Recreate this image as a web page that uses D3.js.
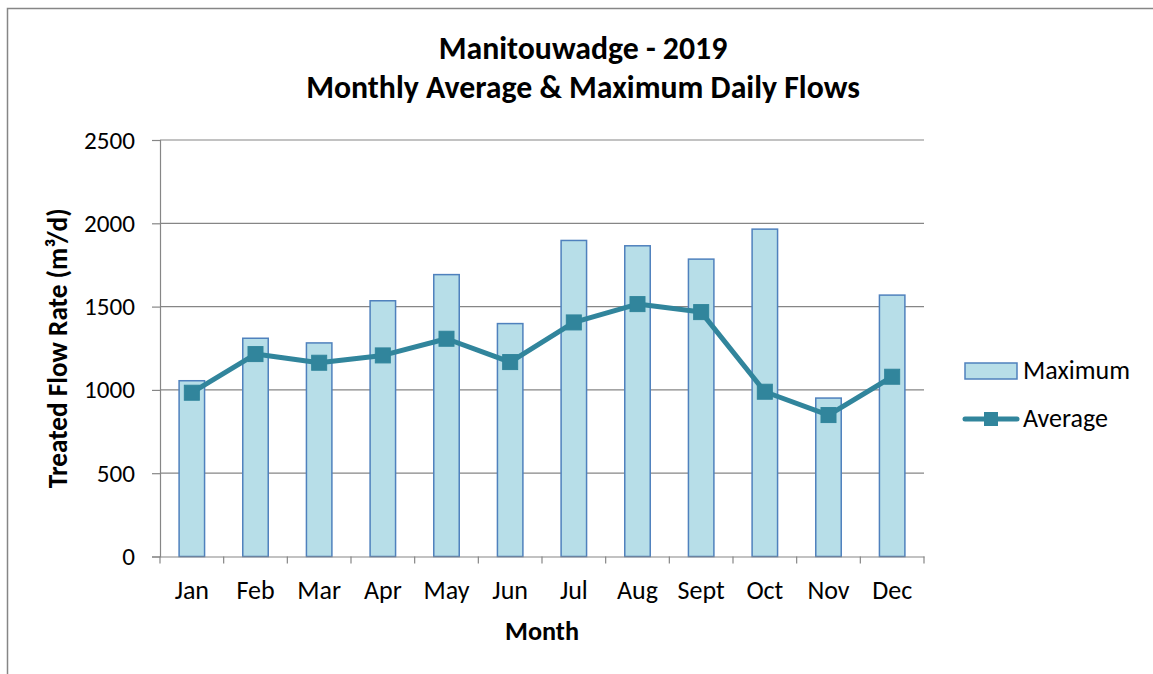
<!DOCTYPE html>
<html><head><meta charset="utf-8">
<script src="https://cdn.jsdelivr.net/npm/d3@7"></script>
<style>
html,body{margin:0;padding:0;background:#fff;}
text{font-family:"Carlito","Calibri","Lato","Open Sans",sans-serif;fill:#000;}
</style></head>
<body><svg id="c" width="1153" height="674"></svg>
<script>
const months = ["Jan","Feb","Mar","Apr","May","Jun","Jul","Aug","Sept","Oct","Nov","Dec"];
const maximum = [1055,1310,1282,1535,1692,1398,1897,1865,1785,1965,951,1569];
const average = [983,1215,1163,1207,1307,1167,1405,1515,1467,989,849,1079];
const yTicks = [0,500,1000,1500,2000,2500];

const svg = d3.select("#c");
const L=160, R=924, T=140, B=556.5;

// scale a selection's font-size so that a sample text reaches a target width
function fit(sel, sampleNode, target){
  const fs = parseFloat(d3.select(sampleNode).attr("font-size"));
  const w = sampleNode.getComputedTextLength();
  const nfs = fs*target/w;
  sel.attr("font-size", nfs);
  return nfs;
}

svg.append("rect").attr("x",7.5).attr("y",8.5).attr("width",1200).attr("height",700)
  .attr("fill","#fff").attr("stroke","#868686").attr("stroke-width",1.5);

const xc = d3.scaleBand().domain(months).range([L,R]);
const y = d3.scaleLinear().domain([0,2500]).range([B,T]);

// gridlines
svg.append("g").selectAll("line").data(yTicks.filter(d=>d>0)).join("line")
  .attr("x1",L).attr("x2",R).attr("y1",d=>y(d)).attr("y2",d=>y(d))
  .attr("stroke","#868686").attr("stroke-width",1.2);

// bars
const bw = xc.bandwidth()*0.4;
svg.append("g").selectAll("rect").data(maximum).join("rect")
  .attr("x",(d,i)=>xc(months[i])+xc.bandwidth()/2-bw/2)
  .attr("width",bw)
  .attr("y",d=>y(d)).attr("height",d=>B-y(d))
  .attr("fill","#B7DEE8").attr("stroke","#4F81BD").attr("stroke-width",1.5);

// y axis
const ya = d3.axisLeft(y).tickValues(yTicks).tickFormat(d3.format("d")).tickSize(8).tickPadding(17);
const gy = svg.append("g").attr("transform",`translate(${L},0)`).call(ya);
gy.attr("font-family",null).attr("font-size",null);
gy.select(".domain").attr("stroke","#868686").attr("stroke-width",1.2);
gy.selectAll(".tick line").attr("stroke","#868686").attr("stroke-width",1.2);
const yt = gy.selectAll(".tick text").attr("font-size",21).attr("fill","#000");
fit(yt, yt.filter(d=>d===2500).node(), 51);

// x axis
const xa = d3.axisBottom(xc).tickSize(0).tickPadding(0);
const gx = svg.append("g").attr("transform",`translate(0,${B})`).call(xa);
gx.attr("font-family",null).attr("font-size",null);
gx.select(".domain").attr("stroke","#868686").attr("stroke-width",1.2);
const xt = gx.selectAll(".tick text").attr("font-size",21).attr("fill","#000").attr("dy",null).attr("y",42);
fit(xt, xt.filter(d=>d==="May").node(), 46);
const bounds = months.map(m=>xc(m)).concat([R]);
gx.append("g").selectAll("line").data(bounds).join("line")
  .attr("x1",d=>d).attr("x2",d=>d).attr("y1",0).attr("y2",7)
  .attr("stroke","#868686").attr("stroke-width",1.2);

// average line
const cx = i=>xc(months[i])+xc.bandwidth()/2;
const line = d3.line().x((d,i)=>cx(i)).y(d=>y(d));
svg.append("path").datum(average).attr("d",line).attr("fill","none")
  .attr("stroke","#31859C").attr("stroke-width",5).attr("stroke-linejoin","round");
svg.append("g").selectAll("rect").data(average).join("rect")
  .attr("x",(d,i)=>cx(i)-7.5).attr("y",d=>y(d)-7.5).attr("width",15).attr("height",15)
  .attr("fill","#31859C").attr("stroke","#31859C").attr("stroke-width",1);

// titles
const t1 = svg.append("text").attr("x",583).attr("y",59).attr("text-anchor","middle")
  .attr("font-size",25).attr("font-weight","bold").text("Manitouwadge - 2019");
const t2 = svg.append("text").attr("x",583).attr("y",98).attr("text-anchor","middle")
  .attr("font-size",25).attr("font-weight","bold").text("Monthly Average & Maximum Daily Flows");
const tfs = fit(t2, t2.node(), 554);
t1.attr("font-size", tfs);
const mt = svg.append("text").attr("x",(L+R)/2).attr("y",640).attr("text-anchor","middle")
  .attr("font-size",21).attr("font-weight","bold").text("Month");
fit(mt, mt.node(), 74);
const yl = svg.append("text").attr("transform",`translate(67,${(T+B)/2}) rotate(-90)`).attr("text-anchor","middle")
  .attr("font-size",21).attr("font-weight","bold").text("Treated Flow Rate (m³/d)");
fit(yl, yl.node(), 280);

// legend
const lg = svg.append("g");
lg.append("rect").attr("x",965).attr("y",363).attr("width",52).attr("height",16)
  .attr("fill","#B7DEE8").attr("stroke","#4F81BD").attr("stroke-width",1.5);
const l1 = lg.append("text").attr("x",1023).attr("y",379).attr("font-size",21).text("Maximum");
lg.append("line").attr("x1",965).attr("x2",1017).attr("y1",419).attr("y2",419)
  .attr("stroke","#31859C").attr("stroke-width",5).attr("stroke-linecap","round");
lg.append("rect").attr("x",984).attr("y",412).attr("width",14).attr("height",14).attr("fill","#31859C");
const l2 = lg.append("text").attr("x",1023).attr("y",427).attr("font-size",21).text("Average");
const lfs = fit(l1, l1.node(), 107);
l2.attr("font-size", lfs);
</script></body></html>
